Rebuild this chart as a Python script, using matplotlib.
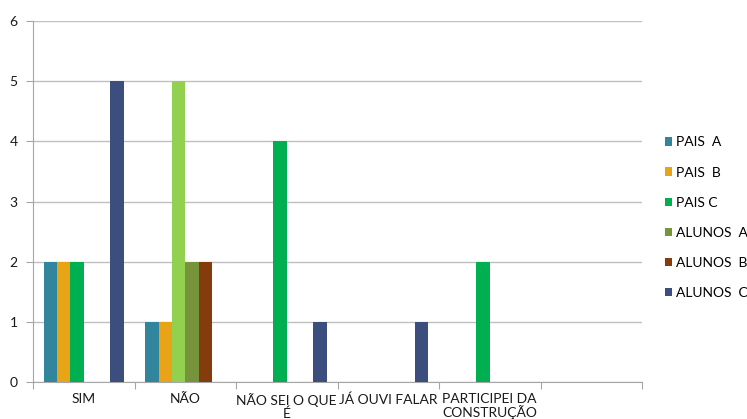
import matplotlib
matplotlib.use("Agg")
import matplotlib.pyplot as plt
from matplotlib.patches import Patch
import numpy as np

categories = ["SIM", "NÃO", "NÃO SEI O QUE\nÉ", "JÁ OUVI FALAR", "PARTICIPEI DA\nCONSTRUÇÃO", ""]
series_names = ["PAIS  A", "PAIS  B", "PAIS C", "ALUNOS  A", "ALUNOS  B", "ALUNOS  C"]
pais_a = [2, 1, 0, 0, 0, 0]
pais_b = [2, 1, 0, 0, 0, 0]
pais_c = [2, 5, 4, 0, 2, 0]
alunos_a = [0, 2, 0, 0, 0, 0]
alunos_b = [0, 2, 0, 0, 0, 0]
alunos_c = [5, 0, 1, 1, 0, 0]
series = [pais_a, pais_b, pais_c, alunos_a, alunos_b, alunos_c]
colors = ["#31859C", "#E8A317", "#00B050", "#77933C", "#843C0C", "#3B4E7E"]
# highlighted point (PAIS C in NÃO) drawn in a lighter green
highlight = {(2, 1): "#92D050"}

plt.rcParams['font.family'] = ['Lato', 'DejaVu Sans']
fig = plt.figure(figsize=(7.47, 4.19), dpi=100)
ax = fig.add_axes([33/747, 1-382/419, (642-33)/747, (382-21)/419])

n = len(series)
x = np.arange(len(categories))
slot = 0.79 / n
for i, (vals, c) in enumerate(zip(series, colors)):
    offs = x - 0.395 + slot * (i + 0.5)
    cols = [highlight.get((i, j), c) for j in range(len(vals))]
    ax.bar(offs, vals, width=slot, color=cols, zorder=3, linewidth=0)

ax.set_xlim(-0.5, len(categories) - 0.5)
ax.set_ylim(0, 6)
ax.set_yticks(range(7))
ax.yaxis.grid(True, color="#BFBFBF", linewidth=1)
ax.set_axisbelow(True)
for s in ["top", "right"]:
    ax.spines[s].set_visible(False)
for s in ["left", "bottom"]:
    ax.spines[s].set_color("#A6A6A6")
ax.set_xticks(np.arange(len(categories) + 1) - 0.5, minor=False)
ax.set_xticklabels([])
ax.set_xticks(x, minor=True)
ax.set_xticklabels(categories, minor=True, fontsize=10, linespacing=1.0, color="#1a1a1a")
ax.tick_params(axis="x", which="major", length=5, color="#A6A6A6")
ax.tick_params(axis="x", which="minor", length=0, pad=8)
ax.tick_params(axis="y", length=5, color="#A6A6A6", labelsize=10, pad=6, labelcolor="#1a1a1a")

handles = [Patch(facecolor=c, edgecolor="none") for c in colors]
leg = fig.legend(handles, series_names, loc="upper left", bbox_to_anchor=(652/747, 1-124/419),
                 frameon=False, fontsize=10, handlelength=0.55, handleheight=0.55,
                 handletextpad=0.3, labelspacing=1.3)

fig.savefig("out.png", dpi=100)
